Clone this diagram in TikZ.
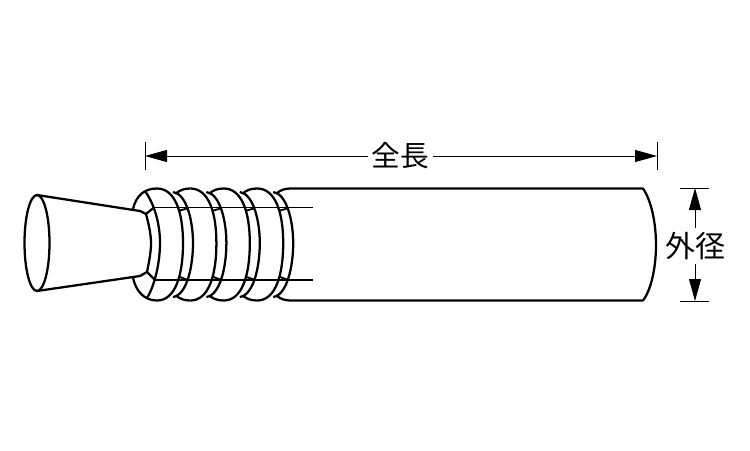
\documentclass[tikz,border=0pt]{standalone}
\usepackage{fontspec}
\newfontfamily\cjk{Noto Sans CJK JP}
\usetikzlibrary{arrows.meta}

\begin{document}
\begin{tikzpicture}[x=0.75pt,y=-0.75pt,>={Triangle[length=16.5pt,width=9pt]},
    part/.style={line width=1.7pt,line join=round},
    thin part/.style={line width=1.4pt},
    dim/.style={line width=0.65pt},
    dimtext/.style={font=\cjk\fontsize{21.5}{23}\selectfont,inner sep=3pt}]
\useasboundingbox (0,0) rectangle (750,450);
% cone
\draw[part] (37,243) ellipse [x radius=12.5,y radius=48];
\draw[part] (37,195) -- (140,211) -- (146,214) .. controls (149,225) and (151,235) .. (151,243) .. controls (151,252) and (149,262) .. (147,272) -- (140,276) -- (37,291);
% first ring
\draw[part] (133,209) .. controls (136,196) and (144,188.5) .. (157,188.5);
\draw[part] (133,278) .. controls (136,291) and (144,300.5) .. (157,300.5);
\draw[part] (145,191) .. controls (155,205) and (160,225) .. (160,243) .. controls (160,262) and (155,285) .. (147,298);
\draw[part] (146,214) -- (154,207.5);
\draw[part] (147,272) -- (155,280);
% threads
\foreach \dx in {0,33.4,66.8,100.2}{
  \draw[part,xshift=\dx*0.75pt] (157,188.5) .. controls (175,188.5) and (183,212) .. (183,243) .. controls (183,276) and (175,300.5) .. (157,300.5);
  \draw[part,xshift=\dx*0.75pt] (173,192) .. controls (187,194) and (193,222) .. (193,243) .. controls (193,266) and (187,295) .. (173,297);
  \draw[thin part,xshift=\dx*0.75pt] (180,210.5) -- (187,208.5);
  \draw[thin part,xshift=\dx*0.75pt] (180,277) -- (188,280);
}
\foreach \dx in {33.4,66.8}{
  \draw[part,xshift=\dx*0.75pt] (143,193) .. controls (147,190) and (151,188.5) .. (157,188.5);
  \draw[part,xshift=\dx*0.75pt] (143,296) .. controls (147,299) and (151,300.5) .. (157,300.5);
}
\draw[part,xshift=100.2*0.75pt] (143,193) .. controls (147,190) and (151,188.5) .. (157,188.5);
\draw[part,xshift=100.2*0.75pt] (143,296) .. controls (147,299) and (151,300.5) .. (157,300.5);
% body
\draw[part] (277,193) .. controls (281,190) and (284,188.5) .. (292,188.5) -- (643,188.5) .. controls (651,200) and (656,222) .. (656,245) .. controls (656,268) and (651,290) .. (643,300.5) -- (292,300.5) .. controls (284,300.5) and (281,299) .. (277,296);
\draw[thin part] (154,207.5) -- (313,207.5);
\draw[thin part] (155,280) -- (313,280);
% dimensions
\coordinate (lenL) at (145,156);
\coordinate (lenR) at (657,156);
\coordinate (diaT) at (695,188);
\coordinate (diaB) at (695,301);
\node[dimtext] (len) at (400.5,156) {全長};
\node[dimtext] (dia) at (695,246) {\fontsize{22.5}{24}\selectfont 外径};
\draw[dim] (145,142) -- (145,170);
\draw[dim] (657,142) -- (657,170);
\draw[dim] (680,188) -- (709,188);
\draw[dim] (680,301) -- (709,301);
\draw[dim,->] (len) -- (lenL);
\draw[dim,->] (len) -- (lenR);
\draw[dim,->] (dia) -- (diaT);
\draw[dim,->] (dia) -- (diaB);
\end{tikzpicture}
\end{document}
